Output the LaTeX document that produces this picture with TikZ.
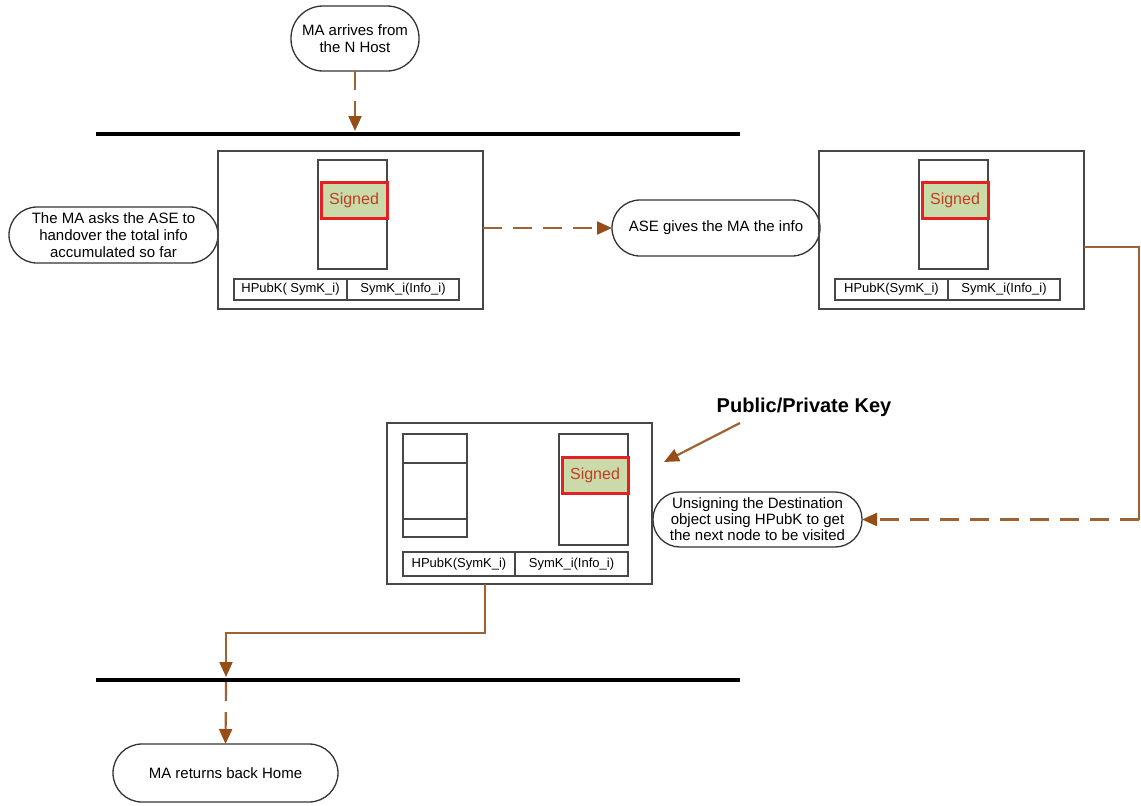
\documentclass[tikz,border=0pt]{standalone}
\usepackage{fontspec}
\setmainfont{Liberation Sans}
\usetikzlibrary{arrows.meta}

\definecolor{brownline}{RGB}{158,98,52}
\definecolor{brownhead}{RGB}{150,78,22}
\definecolor{sred}{RGB}{228,32,36}
\definecolor{sfill}{RGB}{202,218,168}
\definecolor{stext}{RGB}{190,62,40}

\begin{document}
\begin{tikzpicture}[x=1pt,y=-1pt,
  every node/.style={inner sep=0pt, outer sep=0pt},
  term/.style={draw=black!80, line width=1.3pt, rounded corners=#1, align=center,
               font=\fontsize{15}{17}\selectfont},
  frame/.style={draw=black!72, line width=1.6pt},
  slot/.style={draw=black!72, line width=1.4pt},
  signed/.style={draw=sred, line width=3pt, fill=sfill, text=stext,
                 font=\fontsize{16}{16}\selectfont, minimum width=66pt, minimum height=36pt},
  cell/.style={draw=black!72, line width=1.3pt, font=\fontsize{13}{13}\selectfont},
  bar/.style={line width=4.5pt, black},
  flow/.style={draw=brownline, line width=2.2pt},
  flowdash/.style={flow, dash pattern=on 19pt off 11pt},
  tip/.style={-{Triangle[length=15pt,width=13pt,color=brownhead]}},
]
\useasboundingbox (0,0) rectangle (1141,806);

% host boundaries
\coordinate (barAl) at (96,134);  \coordinate (barAr) at (740,134);
\coordinate (barBl) at (96,680);  \coordinate (barBr) at (740,680);
\draw[bar] (barAl) -- (barAr);
\draw[bar] (barBl) -- (barBr);

% terminators
\node[term=32pt, minimum width=128pt, minimum height=65pt] (arrive) at (355,38.5)
  {MA arrives from\\the N Host};
\node[term=28pt, minimum width=209pt, minimum height=56pt] (ask) at (113.5,235)
  {The MA asks the ASE to\\handover the total info\\accumulated so far};
\node[term=28pt, minimum width=208pt, minimum height=56pt] (ase) at (716,228)
  {ASE gives the MA the info};
\node[term=27pt, minimum width=209pt, minimum height=55pt,
      font=\fontsize{15}{16}\selectfont] (unsign) at (757.5,519.5)
  {Unsigning the Destination\\object using HPubK to get\\the next node to be visited};
\node[term=29pt, minimum width=225pt, minimum height=58pt] (home) at (225.5,773)
  {MA returns back Home};

% first agent state
\node[frame, minimum width=265pt, minimum height=158pt] (box1) at (350.5,230) {};
\node[slot, minimum width=69pt, minimum height=109pt] (slot1) at (352.5,214.5) {};
\node[signed] (sig1) at (354,200) {Signed};
\node[cell, minimum width=113pt, minimum height=21pt] (k1) at (290.5,289.5) {HPubK( SymK\_i)};
\node[cell, minimum width=112pt, minimum height=21pt] (i1) at (403,289.5) {SymK\_i(Info\_i)};

% second agent state
\node[frame, minimum width=265pt, minimum height=158pt] (box2) at (951.5,230) {};
\node[slot, minimum width=69pt, minimum height=109pt] (slot2) at (953.5,214.5) {};
\node[signed] (sig2) at (955,200) {Signed};
\node[cell, minimum width=113pt, minimum height=21pt] (k2) at (891.5,289.5) {HPubK(SymK\_i)};
\node[cell, minimum width=112pt, minimum height=21pt] (i2) at (1004,289.5) {SymK\_i(Info\_i)};

% third agent state
\node[frame, minimum width=265pt, minimum height=161pt] (box3) at (519.5,503.5) {};
\node[slot, minimum width=64pt, minimum height=103pt] (ls3) at (435,485.5) {};
\draw[slot] ([yshift=-29pt]ls3.north west) -- ([yshift=-29pt]ls3.north east);
\draw[slot] ([yshift=18pt]ls3.south west) -- ([yshift=18pt]ls3.south east);
\node[slot, minimum width=69pt, minimum height=111pt] (slot3) at (593.5,489.5) {};
\node[signed] (sig3) at (595,475) {Signed};
\node[cell, minimum width=112pt, minimum height=24pt] (k3) at (459,564) {HPubK(SymK\_i)};
\node[cell, minimum width=113pt, minimum height=24pt] (i3) at (571.5,564) {SymK\_i(Info\_i)};

% key label
\node[font=\bfseries\fontsize{20}{20}\selectfont] (key) at (804,407) {Public/Private Key};

% connectors
\coordinate (hitA) at (355,131);
\draw[flowdash, tip] (arrive.south) -- (hitA);

\draw[flowdash, tip] (box1.east |- ase.west) -- (ase.west);

\coordinate (b2out) at ([yshift=-17pt]box2.east);
\coordinate (bendR) at (1139,519.5);
\draw[flow] (b2out) -| (bendR);
\draw[flowdash, tip] (bendR) -- (unsign.east);

\coordinate (keytail) at (740,423);
\coordinate (keytip) at (664,462);
\draw[flow, tip] (keytail) -- (keytip);

\coordinate (b3out) at (485,584);
\coordinate (hitB) at (226,677);
\draw[flow, tip] (b3out) -- ++(0,49) -| (hitB);
\coordinate (belowB) at (226,682);
\draw[flowdash, tip] (belowB) -- (home.north);
\end{tikzpicture}
\end{document}
